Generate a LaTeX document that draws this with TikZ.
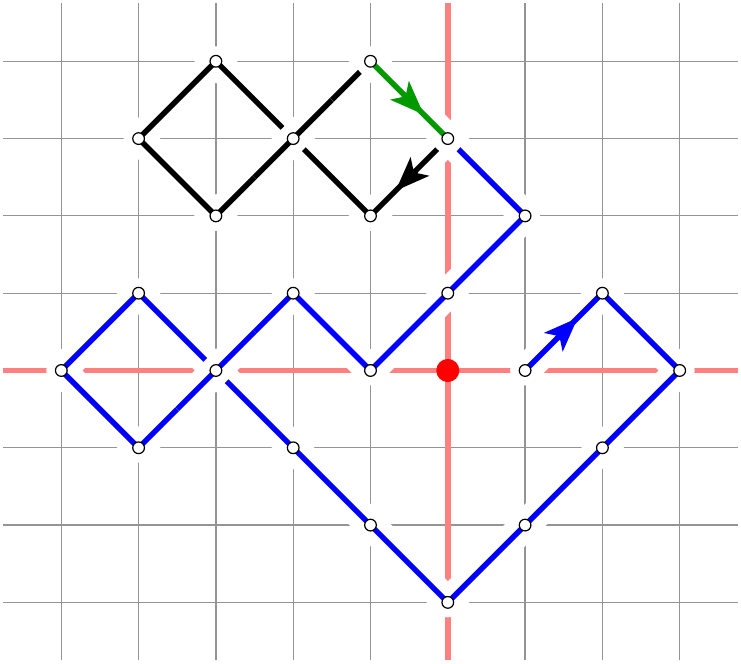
\documentclass[tikz,border=0pt]{standalone}
\usetikzlibrary{arrows.meta}
\begin{document}
\begin{tikzpicture}[
  gridline/.style={draw=black!42, line width=0.45pt},
  axisline/.style={draw=red!50, line width=2.1pt},
  halo/.style={draw=white, line width=11pt, line cap=round, line join=round},
  bridgehalo/.style={draw=white, line width=11pt, line cap=butt},
  strand/.style={line width=2pt, line cap=round, line join=round},
  bluestrand/.style={strand, draw=blue},
  blackstrand/.style={strand, draw=black},
  greenstrand/.style={strand, draw=green!60!black},
  tipline/.style={-{Stealth[length=12.5pt,width=9.5pt,inset=3pt]}, line width=2pt},
  vdot/.style={circle, draw=black, fill=white, line width=0.45pt, inner sep=0pt, minimum size=4.3pt},
  origindot/.style={circle, fill=red, inner sep=0pt, minimum size=8.5pt}
]
\useasboundingbox (-5.793,-3.793) rectangle (3.793,4.793);
% grid
\draw[gridline] (-5.75,-3.75) grid (3.75,4.75);
% axes
\coordinate (axL) at (-5.75,0);
\coordinate (axR) at (3.75,0);
\coordinate (axB) at (0,-3.75);
\coordinate (axT) at (0,4.75);
\draw[axisline] (axL) -- (axR);
\draw[axisline] (axB) -- (axT);
\node[origindot] (orig) at (0,0) {};
% vertices
\foreach \n/\x/\y in {A/-1/4, B/0/3, C/-1/2, D/-2/3, E/-3/4, F/-4/3, G/-3/2,
  H/1/0, I/2/1, J/3/0, K/2/-1, L/1/-2, M/0/-3, N/-1/-2, O/-2/-1, Q/-3/0,
  R/-4/-1, S/-5/0, T/-4/1, U/-2/1, V/-1/0, W/0/1, X/1/2}
  \coordinate (\n) at (\x,\y);
\coordinate (q1) at (-3.5,-0.5);
\coordinate (q2) at (-2.5,0.5);
\coordinate (g1) at (-2.5,2.5);
\coordinate (g2) at (-1.5,3.5);
% blue path
\draw[halo] (H) -- (I) -- (J) -- (K) -- (L) -- (M) -- (N) -- (O) -- (Q) -- (R) -- (S) -- (T) -- (Q) -- (U) -- (V) -- (W) -- (X) -- (B);
\draw[bluestrand] (H) -- (I) -- (J) -- (K) -- (L) -- (M) -- (N) -- (O) -- (Q) -- (R) -- (S) -- (T) -- (Q) -- (U) -- (V) -- (W) -- (X) -- (B);
\draw[bridgehalo] (q1) -- (Q) -- (q2);
\draw[bluestrand, line cap=butt] (q1) -- (Q) -- (q2);
% black loop
\draw[halo] (B) -- (C) -- (D) -- (E) -- (F) -- (G) -- (D) -- (A);
\draw[blackstrand] (B) -- (C) -- (D) -- (E) -- (F) -- (G) -- (D) -- (A);
\draw[bridgehalo] (g1) -- (D) -- (g2);
\draw[blackstrand, line cap=butt] (g1) -- (D) -- (g2);
% green step
\draw[halo] (A) -- (B);
\draw[greenstrand] (A) -- (B);
% arrow heads
\path (A) -- (B) coordinate[pos=0.42] (gback) coordinate[pos=0.69] (gtip);
\path (B) -- (C) coordinate[pos=0.41] (kback) coordinate[pos=0.675] (ktip);
\path (H) -- (I) coordinate[pos=0.41] (bback) coordinate[pos=0.68] (btip);
\draw[tipline, draw=green!60!black] (gback) -- (gtip);
\draw[tipline, draw=black] (kback) -- (ktip);
\draw[tipline, draw=blue] (bback) -- (btip);
% vertex dots
\foreach \n in {A,B,C,D,E,F,G,H,I,J,K,L,M,N,O,Q,R,S,T,U,V,W,X}
  \node[vdot] (dot\n) at (\n) {};
\end{tikzpicture}
\end{document}
